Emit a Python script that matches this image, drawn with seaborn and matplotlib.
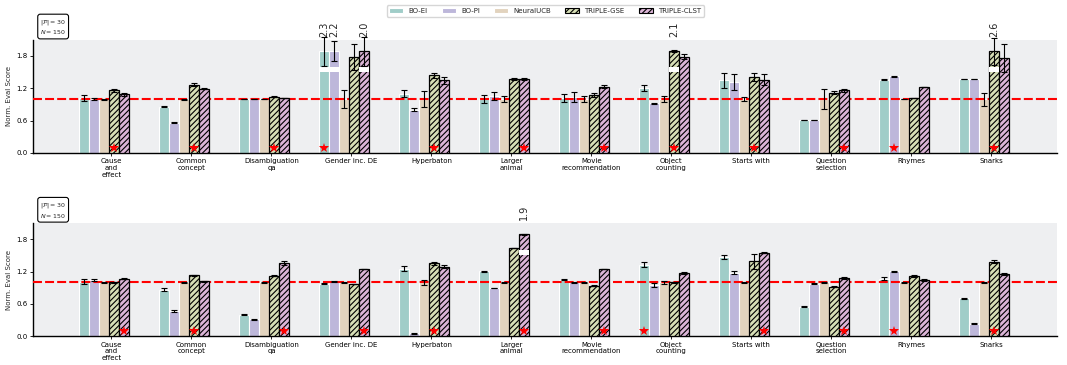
import numpy as np
import pandas as pd
import matplotlib
matplotlib.use("Agg")
import matplotlib.pyplot as plt
from matplotlib.patches import Patch, Rectangle
from matplotlib.container import BarContainer
import seaborn as sns

# ---------------------------------------------------------------- data
tasks = ["Cause\nand\neffect", "Common\nconcept", "Disambiguation\nqa",
         "Gender inc. DE", "Hyperbaton", "Larger\nanimal",
         "Movie\nrecommendation", "Object\ncounting", "Starts with",
         "Question\nselection", "Rhymes", "Snarks"]
methods = ["BO-EI", "BO-PI", "NeuralUCB", "TRIPLE-GSE", "TRIPLE-CLST"]
colors = ["#a0cdc8", "#bdb7da", "#e2d3be", "#d7dfb6", "#dcb5d7"]
hatched = [False, False, False, True, True]

# upper panel: mean normalised score per method
top_bo_ei = [1.02, 0.855, 1.00, 2.3, 1.10, 1.00, 1.02, 1.21, 1.35, 0.614, 1.358, 1.376]
top_bo_pi = [1.00, 0.558, 1.00, 2.2, 0.806, 1.06, 1.035, 0.92, 1.31, 0.614, 1.42, 1.376]
top_nucb = [1.00, 1.00, 1.00, 1.00, 1.00, 1.00, 1.00, 1.00, 1.00, 1.00, 1.00, 1.00]
top_gse = [1.16, 1.27, 1.04, 1.785, 1.44, 1.376, 1.07, 2.1, 1.41, 1.116, 1.02, 2.6]
top_clst = [1.085, 1.19, 1.02, 2.0, 1.345, 1.376, 1.23, 1.785, 1.36, 1.16, 1.22, 1.77]

# upper panel: standard error per method
top_bo_ei_err = [0.05, 0.01, 0.005, 0.27, 0.06, 0.07, 0.08, 0.06, 0.14, 0.005, 0.005, 0.005]
top_bo_pi_err = [0.02, 0.01, 0.005, 0.19, 0.03, 0.08, 0.09, 0.01, 0.15, 0.005, 0.005, 0.005]
top_nucb_err = [0.01, 0.01, 0.005, 0.16, 0.15, 0.06, 0.06, 0.06, 0.03, 0.19, 0.005, 0.12]
top_gse_err = [0.02, 0.02, 0.01, 0.24, 0.05, 0.02, 0.04, 0.02, 0.08, 0.03, 0.005, 0.25]
top_clst_err = [0.03, 0.01, 0.005, 0.27, 0.06, 0.02, 0.03, 0.05, 0.10, 0.02, 0.005, 0.26]

# lower panel: mean normalised score per method
bot_bo_ei = [1.01, 0.866, 0.396, 0.97, 1.255, 1.206, 1.05, 1.33, 1.466, 0.55, 1.07, 0.705]
bot_bo_pi = [1.045, 0.464, 0.31, 1.02, 0.056, 0.89, 1.00, 0.946, 1.175, 0.97, 1.206, 0.23]
bot_nucb = [1.00, 1.00, 1.00, 1.00, 1.00, 1.00, 1.00, 1.00, 1.00, 1.00, 1.00, 1.00]
bot_gse = [1.00, 1.13, 1.125, 0.97, 1.354, 1.64, 0.94, 1.00, 1.39, 0.92, 1.12, 1.385]
bot_clst = [1.064, 1.02, 1.36, 1.25, 1.286, 1.9, 1.25, 1.18, 1.546, 1.08, 1.045, 1.16]

# lower panel: standard error per method
bot_bo_ei_err = [0.05, 0.03, 0.01, 0.01, 0.04, 0.01, 0.01, 0.04, 0.04, 0.01, 0.02, 0.01]
bot_bo_pi_err = [0.02, 0.015, 0.01, 0.01, 0.01, 0.005, 0.005, 0.04, 0.03, 0.01, 0.01, 0.01]
bot_nucb_err = [0.005, 0.005, 0.005, 0.005, 0.05, 0.005, 0.005, 0.03, 0.005, 0.005, 0.005, 0.005]
bot_gse_err = [0.01, 0.01, 0.01, 0.005, 0.03, 0.005, 0.005, 0.005, 0.14, 0.005, 0.02, 0.03]
bot_clst_err = [0.01, 0.01, 0.03, 0.005, 0.03, 0.005, 0.005, 0.02, 0.01, 0.01, 0.02, 0.02]

# index of the starred method in each task
top_star = [3, 3, 3, 0, 3, 4, 4, 3, 3, 4, 1, 3]
bot_star = [4, 3, 4, 4, 3, 4, 4, 0, 4, 4, 1, 3]

panels = [
    dict(means=[top_bo_ei, top_bo_pi, top_nucb, top_gse, top_clst],
         errs=[top_bo_ei_err, top_bo_pi_err, top_nucb_err, top_gse_err, top_clst_err],
         stars=top_star),
    dict(means=[bot_bo_ei, bot_bo_pi, bot_nucb, bot_gse, bot_clst],
         errs=[bot_bo_ei_err, bot_bo_pi_err, bot_nucb_err, bot_gse_err, bot_clst_err],
         stars=bot_star),
]

Y_MAX = 2.1
CLIP = 0.9 * Y_MAX          # bars above this are broken and labelled
BREAK = (1.5, 1.6)          # white gap drawn through broken bars

# ---------------------------------------------------------------- style
sns.set_theme(style="ticks")
plt.rcParams["font.family"] = ["DejaVu Sans"]
plt.rcParams["hatch.linewidth"] = 0.8
plt.rcParams["hatch.color"] = "black"

fig = plt.figure(figsize=(10.67, 3.65), dpi=100)
axes = [fig.add_axes([0.031, 0.581, 0.9596, 0.31]),
        fig.add_axes([0.031, 0.079, 0.9596, 0.31])]

for ax, panel in zip(axes, panels):
    rows = []
    for m, vals in zip(methods, panel["means"]):
        for t, v in zip(tasks, vals):
            rows.append(dict(task=t, method=m, score=v, shown=min(v, CLIP)))
    df = pd.DataFrame(rows)

    sns.barplot(data=df, x="task", y="shown", hue="method", order=tasks,
                hue_order=methods, palette=colors, width=0.625, saturation=1,
                errorbar=None, legend=False, ax=ax, zorder=2)

    bar_sets = [c for c in ax.containers if isinstance(c, BarContainer)]
    for h, cont in enumerate(bar_sets):
        for i, p in enumerate(cont.patches):
            if hatched[h]:
                p.set_hatch("//////")
                p.set_edgecolor("black")
                p.set_linewidth(0.9)
                p.set_zorder(3.5)
            else:
                p.set_edgecolor("white")
                p.set_linewidth(0.8)
            v = panel["means"][h][i]
            e = panel["errs"][h][i]
            xc = p.get_x() + p.get_width() / 2
            top = p.get_height()
            broken = v > CLIP
            ax.errorbar(xc, top, yerr=e, fmt="none", ecolor="black",
                        elinewidth=0.8, capsize=2, capthick=0.8, zorder=4,
                        clip_on=not broken)
            if broken:
                ax.add_patch(Rectangle((p.get_x(), BREAK[0]), p.get_width(),
                                       BREAK[1] - BREAK[0], facecolor="white",
                                       edgecolor="none", zorder=3.8))
                ax.text(xc, Y_MAX + 0.06, f"{v:.1f}", rotation=90, ha="center",
                        va="bottom", fontsize=7, clip_on=False)
            if panel["stars"][i] == h:
                ax.plot(xc, 0.1, marker="*", color="red", ms=7.5, mew=0,
                        ls="none", zorder=5)

    ax.axhline(1.0, color="red", lw=1.5, dashes=(4.3, 1.5), zorder=3)

    ax.set_facecolor("#eeeff1")
    ax.set_xlim(-0.89, 11.91)
    ax.set_ylim(0, Y_MAX)
    ax.set_yticks([0.0, 0.6, 1.2, 1.8])
    ax.set_yticklabels(["0.0", "0.6", "1.2", "1.8"], fontsize=5)
    ax.set_xticks(np.arange(len(tasks)) + 0.09)
    ax.set_xticklabels(tasks, fontsize=5, linespacing=1.15)
    ax.set_xlabel("")
    ax.set_ylabel("Norm. Eval Score", fontsize=5, labelpad=3)
    ax.tick_params(axis="both", length=2, width=0.6, pad=2, colors="black")
    for s in ["top", "right"]:
        ax.spines[s].set_visible(False)
    for s in ["left", "bottom"]:
        ax.spines[s].set_color("black")
        ax.spines[s].set_linewidth(1.0)

    ax.text(0.007, 1.03, r"$|\mathcal{P}| = 30$" + "\n" + r"$N = 150$",
            transform=ax.transAxes, fontsize=4.5, ha="left", va="bottom",
            bbox=dict(boxstyle="round,pad=0.4", fc="white", ec="black", lw=0.8))

handles = [Patch(facecolor=c, edgecolor=("black" if hz else "white"),
                 hatch=("//////" if hz else None), lw=0.8)
           for c, hz in zip(colors, hatched)]
fig.legend(handles, methods, loc="upper center", bbox_to_anchor=(0.511, 0.995),
           ncol=5, fontsize=5, frameon=True, fancybox=True, edgecolor="#cccccc")

fig.savefig("out.png", dpi=100)
